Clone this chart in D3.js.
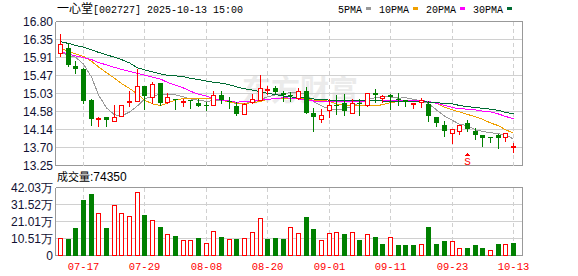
<!DOCTYPE html>
<html>
<head>
<meta charset="utf-8">
<script src="https://cdn.jsdelivr.net/npm/d3@7"></script>
<style>
	body { margin: 0; background: #fff; }
	svg { display: block; }
</style>
</head>
<body>
<svg id="chart" width="578" height="276"></svg>
<script>
const title = { name: '一心堂', rest: '[002727] 2025-10-13 15:00' }
const dates = ['07-14', '07-15', '07-16', '07-17', '07-18', '07-21', '07-22', '07-23', '07-24', '07-25',
	'07-28', '07-29', '07-30', '07-31', '08-01', '08-04', '08-05', '08-06', '08-07', '08-08',
	'08-11', '08-12', '08-13', '08-14', '08-15', '08-18', '08-19', '08-20', '08-21', '08-22',
	'08-25', '08-26', '08-27', '08-28', '08-29', '09-01', '09-02', '09-03', '09-04', '09-05',
	'09-08', '09-09', '09-10', '09-11', '09-12', '09-15', '09-16', '09-17', '09-18', '09-19',
	'09-22', '09-23', '09-24', '09-25', '09-26', '09-29', '09-30', '10-09', '10-10', '10-13']
const opens = [16.02, 16.15, 15.71, 15.62, 14.86, 14.41, 14.45, 14.34, 14.48, 14.81,
	14.85, 15.22, 14.93, 15.28, 14.81, 14.88, 14.82, 14.86, 14.80, 14.75,
	14.74, 15.00, 14.83, 14.72, 14.53, 14.81, 14.87, 15.13, 15.15, 15.04,
	15.00, 14.91, 15.08, 14.54, 14.40, 14.61, 14.74, 14.78, 14.55, 14.80,
	14.75, 15.03, 14.91, 14.98, 14.88, 14.86, 14.77, 14.81, 14.77, 14.45,
	14.24, 14.06, 14.10, 14.29, 14.11, 14.00, 13.95, 14.00, 13.96, 13.72]
const highs = [16.50, 16.27, 15.83, 15.65, 14.90, 14.44, 14.45, 14.74, 14.73, 15.08,
	15.63, 15.22, 15.32, 15.28, 15.04, 14.89, 14.88, 14.86, 14.88, 14.81,
	15.08, 15.08, 14.93, 14.81, 14.80, 15.01, 15.48, 15.20, 15.22, 15.09,
	15.05, 15.15, 15.19, 14.67, 14.65, 14.88, 15.00, 15.01, 14.88, 14.90,
	15.03, 15.13, 14.98, 15.01, 15.03, 14.86, 14.79, 14.91, 14.84, 14.45,
	14.35, 14.14, 14.24, 14.36, 14.18, 14.00, 13.95, 14.02, 14.05, 13.80]
const lows = [15.96, 15.70, 15.52, 14.78, 14.26, 14.23, 14.23, 14.34, 14.48, 14.72,
	14.85, 14.65, 14.78, 14.73, 14.80, 14.64, 14.72, 14.67, 14.72, 14.62,
	14.73, 14.78, 14.67, 14.50, 14.53, 14.80, 14.87, 15.01, 15.03, 14.85,
	14.83, 14.88, 14.55, 14.11, 14.33, 14.45, 14.52, 14.50, 14.55, 14.50,
	14.72, 14.81, 14.82, 14.64, 14.75, 14.72, 14.66, 14.70, 14.35, 14.23,
	13.98, 13.80, 14.03, 14.10, 13.91, 13.72, 13.83, 13.67, 13.85, 13.59]
const closes = [16.25, 15.72, 15.62, 14.85, 14.40, 14.43, 14.38, 14.45, 14.73, 14.84,
	15.22, 14.97, 15.27, 14.80, 14.93, 14.86, 14.84, 14.84, 14.72, 14.73,
	15.00, 14.87, 14.81, 14.52, 14.77, 14.88, 15.15, 15.14, 15.06, 14.98,
	14.97, 15.08, 14.55, 14.45, 14.49, 14.73, 14.72, 14.60, 14.79, 14.78,
	15.03, 14.99, 14.96, 14.95, 14.86, 14.81, 14.79, 14.86, 14.47, 14.30,
	14.09, 14.14, 14.24, 14.14, 14.01, 13.94, 13.93, 13.92, 14.05, 13.74]
// 成交量, 万手
const volumes = [10.9, 10.3, 17.3, 34.0, 38.3, 26.0, 17.3, 31.5, 26.0, 24.5,
	39.4, 25.3, 22.0, 17.9, 13.4, 12.2, 9.3, 9.7, 11.1, 8.0,
	15.3, 11.7, 10.3, 10.5, 10.9, 14.8, 23.3, 10.5, 11.1, 9.9,
	17.7, 14.2, 24.1, 16.1, 9.7, 14.2, 14.8, 13.0, 14.8, 9.3,
	13.4, 11.7, 6.8, 11.7, 6.2, 6.2, 6.2, 7.4, 17.5, 7.4,
	8.7, 8.7, 4.7, 4.9, 6.2, 4.7, 3.5, 6.8, 6.8, 7.435]
// 1 = 红 (涨), 0 = 绿 (跌), as the volume bars show
const volumeUp = [1, 0, 0, 0, 0, 1, 0, 1, 1, 1,
	1, 0, 1, 0, 1, 0, 1, 1, 0, 1,
	1, 0, 1, 0, 1, 1, 1, 0, 0, 0,
	1, 1, 0, 0, 1, 1, 1, 0, 1, 0,
	1, 0, 0, 1, 0, 0, 0, 1, 0, 0,
	0, 1, 1, 0, 0, 0, 1, 0, 1, 0]
const ma5 = [16.04, 15.97, 15.92, 15.75, 15.43, 14.99, 14.67, 14.50, 14.47, 14.57,
	14.72, 14.89, 14.96, 15.01, 14.99, 14.99, 14.94, 14.89, 14.86, 14.83,
	14.85, 14.86, 14.84, 14.77, 14.78, 14.81, 14.88, 14.94, 14.99, 15.01,
	15.05, 15.06, 14.99, 14.83, 14.72, 14.64, 14.62, 14.64, 14.72, 14.79,
	14.88, 14.92, 14.94, 14.94, 14.91, 14.92, 14.88, 14.84, 14.78, 14.62,
	14.47, 14.36, 14.27, 14.23, 14.13, 14.09, 14.06, 14.03, 14.01, 13.90]
const ma10 = [16.14, 16.06, 16.00, 15.94, 15.82, 15.68, 15.54, 15.40, 15.27, 15.15,
	15.01, 14.86, 14.77, 14.73, 14.79, 14.86, 14.90, 14.90, 14.90, 14.90,
	14.89, 14.86, 14.82, 14.78, 14.78, 14.80, 14.83, 14.88, 14.90, 14.90,
	14.90, 14.90, 14.89, 14.86, 14.86, 14.83, 14.77, 14.73, 14.72, 14.72,
	14.72, 14.72, 14.75, 14.80, 14.83, 14.85, 14.85, 14.85, 14.83, 14.78,
	14.69, 14.62, 14.57, 14.51, 14.45, 14.39, 14.30, 14.23, 14.13, 14.05]
const ma20 = [16.05, 16.00, 15.95, 15.91, 15.86, 15.79, 15.73, 15.67, 15.62, 15.57,
	15.52, 15.48, 15.43, 15.38, 15.30, 15.23, 15.16, 15.08, 15.01, 14.96,
	14.90, 14.86, 14.84, 14.81, 14.83, 14.84, 14.86, 14.88, 14.90, 14.92,
	14.91, 14.89, 14.86, 14.84, 14.83, 14.83, 14.83, 14.83, 14.83, 14.83,
	14.84, 14.85, 14.86, 14.86, 14.86, 14.85, 14.85, 14.85, 14.83, 14.78,
	14.73, 14.68, 14.65, 14.64, 14.62, 14.59, 14.57, 14.52, 14.46, 14.40]
const ma30 = [16.30, 16.26, 16.21, 16.17, 16.10, 16.04, 15.98, 15.92, 15.86, 15.78,
	15.66, 15.61, 15.56, 15.51, 15.47, 15.46, 15.44, 15.40, 15.37, 15.33,
	15.30, 15.28, 15.24, 15.19, 15.14, 15.11, 15.07, 15.03, 15.00, 14.96,
	14.94, 14.93, 14.91, 14.89, 14.88, 14.86, 14.85, 14.85, 14.85, 14.85,
	14.85, 14.85, 14.84, 14.84, 14.84, 14.84, 14.84, 14.83, 14.81, 14.80,
	14.78, 14.77, 14.73, 14.70, 14.68, 14.66, 14.64, 14.61, 14.56, 14.52]
const priceTicks = ['13.25', '13.70', '14.14', '14.58', '15.03', '15.47', '15.91', '16.35', '16.80']
const volumeTicks = ['0', '10.51万', '21.01万', '31.52万', '42.03万']
const dateTicks = ['07-17', '07-29', '08-08', '08-20', '09-01', '09-11', '09-23', '10-13']
const maNames = ['5PMA', '10PMA', '20PMA', '30PMA']
const signals = [{ date: '09-25', label: 'S' }]

const RED = '#ff0000'
const GREEN = '#008000'
const maColors = ['#999999', '#f0a000', '#ff00ff', '#006b33']
const GRID = '#d0d0d0'
const BORDER = '#999999'
const MONO = '"Liberation Mono", "DejaVu Sans Mono", monospace'
const SANS = '"Liberation Sans", Arial, sans-serif'
const CJK = '"Noto Sans CJK SC", sans-serif'

const svg = d3.select('#chart')
const left = 55.5
const right = 522.5
const price = { top: 21.5, bottom: 165.5 }
const vol = { top: 187.5, bottom: 255.5 }

const x = d3.scaleBand().domain(dates).range([56.5, 517.3]).paddingInner(0.35).paddingOuter(0.175)
const bx = (d) => Math.round(x(d))
const mid = (d) => bx(d) + 2.5
const yP = d3.scaleLinear().domain([+priceTicks[0], +priceTicks[priceTicks.length - 1]]).range([price.bottom, price.top])
const volMax = parseFloat(volumeTicks[volumeTicks.length - 1])
const yV = d3.scaleLinear().domain([0, volMax]).range([vol.bottom, vol.top])

const gGrid = svg.append('g').attr('shape-rendering', 'crispEdges')
const gMark = svg.append('g').attr('shape-rendering', 'crispEdges')
const gText = svg.append('g')

// 水印
gGrid.append('text')
	.attr('x', 300).attr('y', 101)
	.attr('text-anchor', 'middle')
	.style('font-family', CJK).style('font-size', '29px').style('font-weight', 'bold')
	.style('fill', '#ebebeb')
	.text('东方财富')

// horizontal grid
const priceStep = (yP.domain()[1] - yP.domain()[0]) / (priceTicks.length - 1)
priceTicks.forEach((t, k) => {
	const y = Math.round(yP(yP.domain()[0] + k * priceStep) - 0.5) + 0.5
	const edge = k === 0 || k === priceTicks.length - 1
	gGrid.append('line').attr('x1', left).attr('x2', right).attr('y1', y).attr('y2', y)
		.style('stroke', edge ? BORDER : GRID)
	gText.append('text').attr('x', 53).attr('y', y).attr('dy', '0.36em')
		.attr('text-anchor', 'end')
		.style('font-family', SANS).style('font-size', '12px').style('fill', '#111133')
		.text(t)
})
volumeTicks.forEach((t, k) => {
	const y = Math.round(yV(k * volMax / (volumeTicks.length - 1)) - 0.5) + 0.5
	const edge = k === 0 || k === volumeTicks.length - 1
	gGrid.append('line').attr('x1', left).attr('x2', right).attr('y1', y).attr('y2', y)
		.style('stroke', edge ? BORDER : GRID)
	gText.append('text').attr('x', 53).attr('y', y).attr('dy', '0.36em')
		.attr('text-anchor', 'end')
		.style('font-family', SANS).style('font-size', '12px').style('fill', '#111133')
		.text(t)
})

// vertical dashed lines + date labels
dateTicks.forEach((d) => {
	const xx = mid(d)
	;[price, vol].forEach((p) => {
		gGrid.append('line').attr('x1', xx).attr('x2', xx).attr('y1', p.top).attr('y2', p.bottom)
			.style('stroke', GRID).style('stroke-dasharray', '4,3')
	})
	gText.append('text').attr('x', xx).attr('y', 270)
		.attr('text-anchor', 'middle')
		.style('font-family', MONO).style('font-size', '10.5px').style('fill', RED)
		.text(d)
})

// frames
;[price, vol].forEach((p) => {
	gGrid.append('line').attr('x1', left).attr('x2', left).attr('y1', p.top).attr('y2', p.bottom).style('stroke', BORDER)
	gGrid.append('line').attr('x1', right).attr('x2', right).attr('y1', p.top).attr('y2', p.bottom).style('stroke', BORDER)
})

// moving averages
const line = d3.line().x((_, i) => mid(dates[i])).y((v) => yP(v))
;[ma5, ma10, ma20, ma30].forEach((ma, k) => {
	gMark.append('path').datum(ma)
		.attr('d', line)
		.style('fill', 'none').style('stroke', maColors[k]).style('stroke-width', 1)
})

// candles
const candles = dates.map((d, i) => ({ date: d, o: opens[i], h: highs[i], l: lows[i], c: closes[i], v: volumes[i], vu: volumeUp[i] }))
const up = (d) => d.c > d.o
const gC = gMark.selectAll('g.candle').data(candles).enter().append('g').classed('candle', true)
gC.append('line')
	.attr('x1', (d) => mid(d.date)).attr('x2', (d) => mid(d.date))
	.attr('y1', (d) => Math.round(yP(d.h))).attr('y2', (d) => Math.round(yP(d.l)) + 1)
	.style('stroke', (d) => up(d) ? RED : GREEN)
gC.append('rect')
	.attr('x', (d) => up(d) ? bx(d.date) + 0.5 : bx(d.date))
	.attr('width', (d) => up(d) ? 4 : 5)
	.attr('y', (d) => Math.round(yP(Math.max(d.o, d.c))) + (up(d) ? 0.5 : 0))
	.attr('height', (d) => Math.max(1, Math.round(yP(Math.min(d.o, d.c))) - Math.round(yP(Math.max(d.o, d.c)))))
	.style('fill', (d) => up(d) ? '#fff' : GREEN)
	.style('stroke', (d) => up(d) ? RED : 'none')

// volume bars
gMark.selectAll('rect.vol').data(candles).enter().append('rect').classed('vol', true)
	.attr('x', (d) => d.vu ? bx(d.date) + 0.5 : bx(d.date))
	.attr('width', (d) => d.vu ? 4 : 5)
	.attr('y', (d) => Math.round(yV(d.v)) + (d.vu ? 0.5 : 0))
	.attr('height', (d) => Math.round(yV(0)) - Math.round(yV(d.v)) - (d.vu ? 1 : 0))
	.style('fill', (d) => d.vu ? '#fff' : GREEN)
	.style('stroke', (d) => d.vu ? RED : 'none')

// signal marker
signals.forEach((s) => {
	const xx = mid(s.date)
	gMark.append('path')
		.attr('d', `M${xx - 3},156 L${xx},152.5 L${xx + 3},156 Z`)
		.style('fill', RED)
	gText.append('text').attr('x', xx).attr('y', 165)
		.attr('text-anchor', 'middle')
		.style('font-family', MONO).style('font-size', '11px').style('fill', RED)
		.text(s.label)
})

// title
const tTitle = gText.append('text').attr('x', 57).attr('y', 13).style('fill', '#000')
tTitle.append('tspan').style('font-family', CJK).style('font-size', '12px').text(title.name)
tTitle.append('tspan').style('font-family', MONO).style('font-size', '10px').text(title.rest)

// volume caption
const last = candles[candles.length - 1]
const tVol = gText.append('text').attr('x', 57).attr('y', 181).style('fill', '#000')
tVol.append('tspan').style('font-family', CJK).style('font-size', '11px').text('成交量')
tVol.append('tspan').style('font-family', SANS).style('font-size', '12px').text(':' + Math.round(last.v * 10000))

// legend
let lx = 338
maNames.forEach((n, k) => {
	const t = gText.append('text').attr('x', lx).attr('y', 13)
		.style('font-family', MONO).style('font-size', '10px').style('fill', '#000')
		.text(n)
	const w = t.node().getComputedTextLength()
	gMark.append('rect').attr('x', Math.round(lx + w + 4)).attr('y', 7).attr('width', 5).attr('height', 3)
		.style('fill', maColors[k])
	lx = Math.round(lx + w + 4 + 5 + 8)
})
</script>
</body>
</html>
